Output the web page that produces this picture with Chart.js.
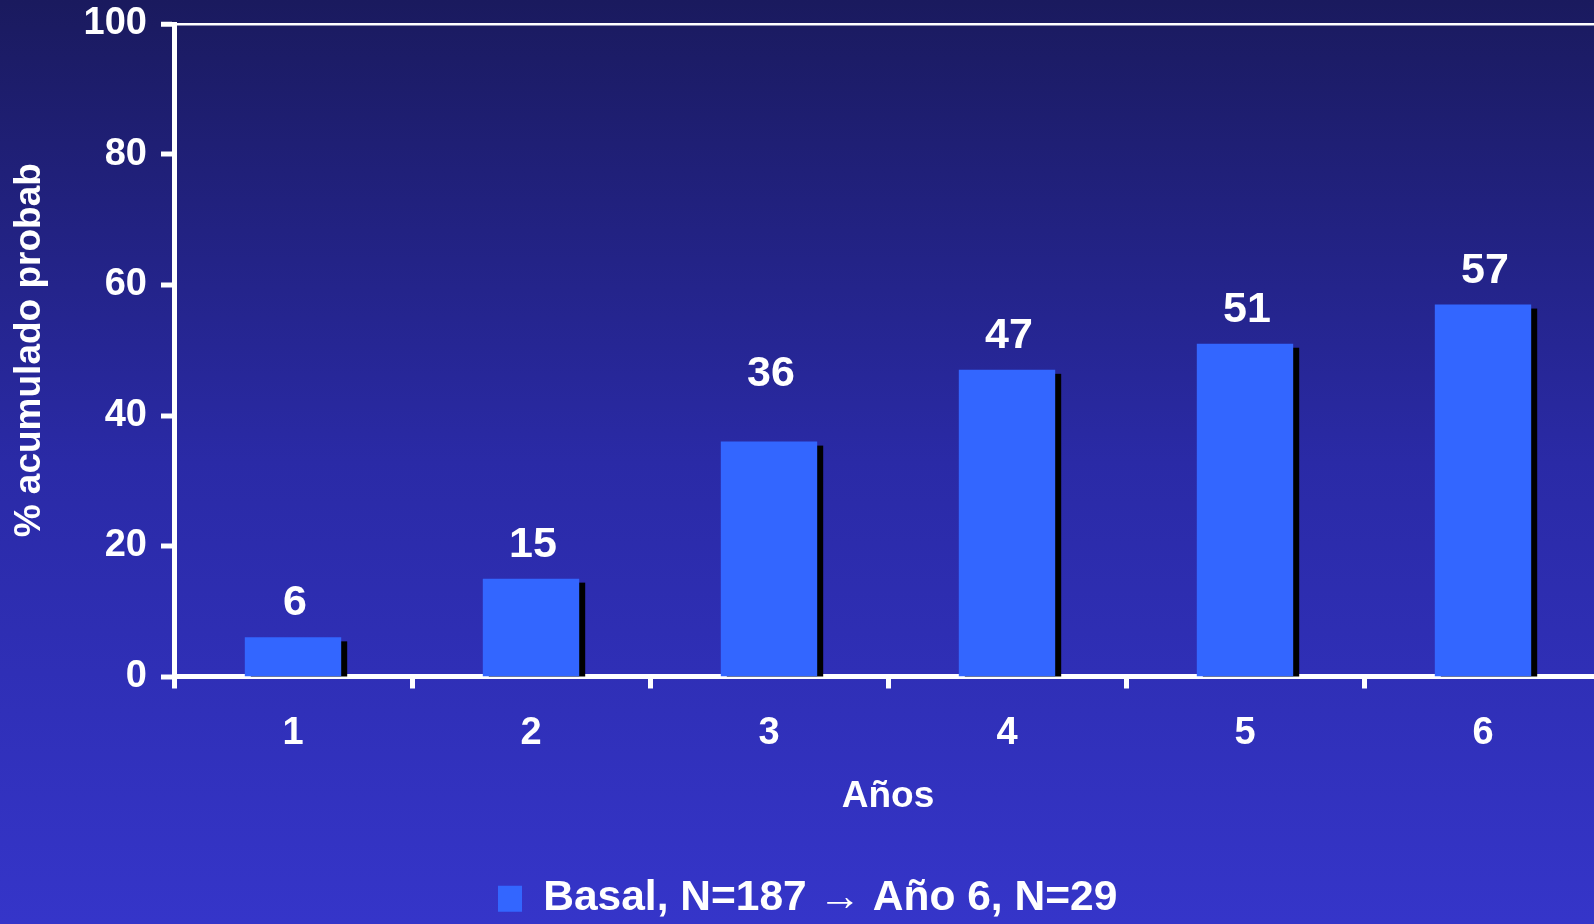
<!DOCTYPE html>
<html>
<head>
<meta charset="utf-8">
<script src="https://cdn.jsdelivr.net/npm/chart.js@4.4.1/dist/chart.umd.min.js"></script>
<style>
  html, body { margin: 0; padding: 0; overflow: hidden; background: #2a2aa8; }
  canvas { display: block; }
</style>
</head>
<body>
<canvas id="chart" width="1610" height="924"></canvas>
<script>
// Cumulative probability (%) by year of follow-up
const years = ['1', '2', '3', '4', '5', '6'];
const cumulativePct = [6, 15, 36, 47, 51, 57];
const yTickValues = [0, 20, 40, 60, 80, 100];
const seriesLabel = 'Basal, N=187 \u2192 A\u00f1o 6, N=29';
const yTitle = '% acumulado probab';
const xTitle = 'A\u00f1os';

const FONT = '"Liberation Sans", Arial, sans-serif';
const WHITE = '#ffffff';

// Navy-to-blue vertical backdrop
const backdrop = {
  id: 'backdrop',
  beforeDraw(chart) {
    const { ctx, width, height } = chart;
    const g = ctx.createLinearGradient(0, 0, 0, height);
    g.addColorStop(0, '#1a1a5e');
    g.addColorStop(0.5, '#2a2aa6');
    g.addColorStop(1, '#3535c9');
    ctx.save();
    ctx.fillStyle = g;
    ctx.fillRect(0, 0, width, height);
    ctx.restore();
  }
};

// Black drop shadow offset to the lower right of each bar
const barShadow = {
  id: 'barShadow',
  beforeDatasetsDraw(chart) {
    const ctx = chart.ctx;
    ctx.save();
    ctx.fillStyle = '#000000';
    chart.getDatasetMeta(0).data.forEach(bar => {
      const p = bar.getProps(['x', 'y', 'base', 'width'], true);
      ctx.fillRect(p.x - p.width / 2 + 6, p.y + 4, p.width, p.base - p.y - 4);
    });
    ctx.restore();
  }
};

// Value printed above each bar (the third label sits higher than the rest)
const valueLabels = {
  id: 'valueLabels',
  afterDatasetsDraw(chart, args, opts) {
    const ctx = chart.ctx;
    const values = chart.data.datasets[0].data;
    const extraLift = opts.extraLift || [];
    ctx.save();
    ctx.fillStyle = WHITE;
    ctx.font = 'bold 43px ' + FONT;
    ctx.textAlign = 'center';
    ctx.textBaseline = 'alphabetic';
    chart.getDatasetMeta(0).data.forEach((bar, i) => {
      ctx.fillText(String(values[i]), bar.x + 2, bar.y - 22 - (extraLift[i] || 0));
    });
    ctx.restore();
  }
};

// Legend row starts at a fixed x, nudged slightly down
const legendPlacement = {
  id: 'legendPlacement',
  afterLayout(chart) {
    const lg = chart.legend;
    if (!lg) return;
    lg.left = 498;
    lg.top += 6;
    lg.bottom += 6;
  }
};

// Keep the plot area where the layout padding puts it
function noLabelPadding(scale) {
  scale.paddingTop = 0;
  scale.paddingBottom = 0;
  scale.paddingLeft = 0;
  scale.paddingRight = 0;
}

new Chart(document.getElementById('chart'), {
  type: 'bar',
  data: {
    labels: years,
    datasets: [{
      label: seriesLabel,
      data: cumulativePct,
      backgroundColor: '#3366ff',
      borderWidth: 0,
      categoryPercentage: 1,
      barPercentage: 0.405
    }]
  },
  options: {
    responsive: false,
    animation: false,
    layout: { padding: { top: 24, right: 8, bottom: 0, left: 0 } },
    plugins: {
      tooltip: { enabled: false },
      valueLabels: { extraLift: [0, 0, 34, 0, 0, 0] },
      legend: {
        position: 'bottom',
        align: 'start',
        labels: {
          color: WHITE,
          font: { family: FONT, weight: 'bold', size: 42.5 },
          boxWidth: 24,
          boxHeight: 26,
          padding: 0
        }
      }
    },
    scales: {
      x: {
        z: 1,
        grid: {
          offset: true,
          drawOnChartArea: false,
          color: 'transparent',
          tickColor: WHITE,
          tickLength: 12,
          tickWidth: 5
        },
        border: { color: WHITE, width: 5 },
        ticks: { color: WHITE, font: { family: FONT, weight: 'bold', size: 38 }, padding: 22 },
        title: {
          display: true,
          text: xTitle,
          color: WHITE,
          font: { family: FONT, weight: 'bold', size: 37, lineHeight: 1 },
          padding: { top: 0, bottom: 56 }
        },
        afterFit(scale) { scale.height = 195; noLabelPadding(scale); }
      },
      y: {
        z: 1,
        min: 0,
        max: 100,
        afterBuildTicks(scale) { scale.ticks = yTickValues.map(v => ({ value: v })); },
        grid: {
          color: c => (c.tick && c.tick.value === 100 ? WHITE : 'transparent'),
          lineWidth: c => (c.tick && c.tick.value === 100 ? 2.5 : 0),
          tickColor: WHITE,
          tickLength: 13,
          tickWidth: 5
        },
        border: { color: WHITE, width: 5 },
        ticks: { color: WHITE, font: { family: FONT, weight: 'bold', size: 38 }, padding: 14 },
        title: {
          display: true,
          text: yTitle,
          color: WHITE,
          font: { family: FONT, weight: 'bold', size: 37, lineHeight: 1 },
          padding: { top: 11, bottom: 0 }
        },
        afterFit(scale) { scale.width = 174; noLabelPadding(scale); }
      }
    }
  },
  plugins: [backdrop, barShadow, valueLabels, legendPlacement]
});
</script>
</body>
</html>
